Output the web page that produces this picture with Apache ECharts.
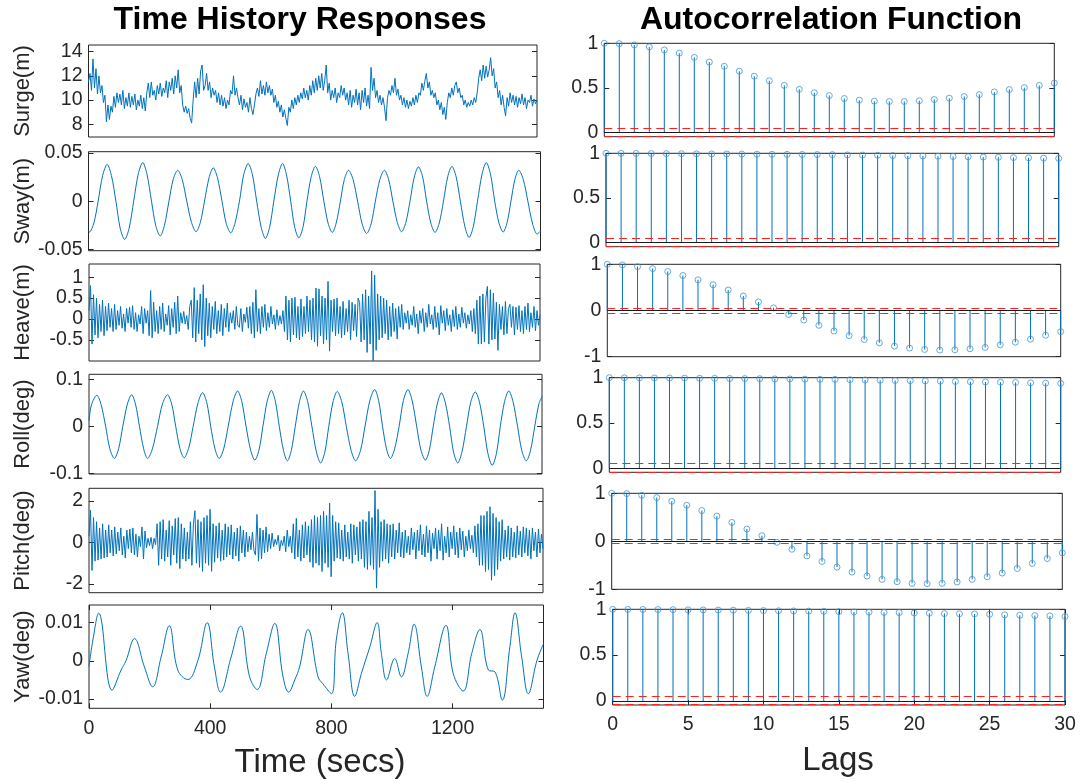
<!DOCTYPE html>
<html>
<head>
<meta charset="utf-8">
<script src="https://cdn.jsdelivr.net/npm/echarts@6/dist/echarts.min.js"></script>
<style>html,body{margin:0;padding:0;background:#fff}#c{width:1083px;height:784px}</style>
</head>
<body>
<div id="c"></div>
<script>
const FONT = '"Liberation Sans", Arial, Helvetica, sans-serif';

// ---------- DATA ----------
const timeStep = 5; // seconds between samples of the noisy records
const timeTicks = [0, 400, 800, 1200];
const lagTicks = [0, 5, 10, 15, 20, 25, 30];
const lags = [0,1,2,3,4,5,6,7,8,9,10,11,12,13,14,15,16,17,18,19,20,21,22,23,24,25,26,27,28,29,30];

const surgeTicks = [8, 10, 12, 14];
const swayTicks = [-0.05, 0, 0.05];
const heaveTicks = [-0.5, 0, 0.5, 1];
const rollTicks = [-0.1, 0, 0.1];
const pitchTicks = [-2, 0, 2];
const yawTicks = [-0.01, 0, 0.01];
const acfTicksPos = [0, 0.5, 1];
const acfTicksSym = [-1, 0, 1];

const surgeVals = [
 11.5,12.2,10.8,13.4,11.0,12.6,10.5,12.0,10.6,11.2,
 9.8,10.4,8.2,9.6,8.4,9.5,9.0,10.3,9.4,10.6,
 9.8,10.5,9.6,10.8,9.3,10.2,9.5,10.6,9.4,10.3,
 9.6,10.5,9.2,10.0,9.5,10.4,9.3,10.2,9.1,10.6,
 11.4,10.2,11.5,10.4,10.8,10.0,11.2,10.5,11.4,10.3,
 11.0,10.6,11.6,10.2,11.5,10.8,11.8,10.5,12.0,11.0,
 12.5,10.6,11.2,9.6,9.0,9.5,8.9,9.3,8.5,8.1,
 10.0,11.5,10.2,11.8,10.5,12.4,12.9,10.8,11.2,12.2,
 10.8,11.5,10.2,11.0,10.4,10.8,9.8,10.6,9.6,10.4,
 9.5,10.2,9.3,10.0,9.6,10.8,10.5,12.0,10.4,11.0,
 10.2,9.6,10.4,9.2,10.1,9.4,9.8,9.0,10.2,9.3,
 8.8,9.6,10.5,11.0,10.3,11.6,10.5,11.2,10.4,11.5,
 10.6,11.2,10.4,10.9,9.8,10.4,9.4,9.9,9.0,9.6,
 8.6,9.2,8.5,7.9,9.4,9.0,10.0,9.3,10.2,9.6,
 10.4,9.8,10.6,10.1,11.0,10.2,10.8,10.0,11.2,10.4,
 11.6,10.6,11.8,10.8,12.0,11.0,12.2,10.8,11.6,12.9,
 10.6,11.4,10.0,10.8,10.2,11.0,9.8,10.6,10.2,11.2,
 10.4,11.0,10.0,10.6,9.6,10.8,9.4,10.4,9.8,10.9,
 9.6,10.6,9.2,10.8,9.8,11.0,9.5,10.4,9.3,12.7,
 10.8,11.8,10.2,10.8,9.8,10.4,9.6,10.2,9.4,8.3,
 10.2,10.8,10.4,11.2,10.6,11.8,10.4,10.9,10.0,10.4,
 9.6,10.2,9.4,10.0,9.3,9.9,9.5,10.2,9.6,10.4,
 9.8,10.6,10.4,11.4,10.8,11.6,12.2,11.0,11.5,10.4,
 10.8,10.2,10.6,9.6,10.0,9.2,9.8,8.8,9.4,8.4,
 9.8,10.6,10.2,11.0,10.4,11.2,11.5,10.6,11.0,10.2,
 10.4,9.6,10.0,9.4,9.8,9.5,10.0,9.6,10.2,9.8,
 10.6,11.8,12.5,11.6,12.9,11.8,12.8,11.9,12.5,13.5,
 12.0,12.6,11.0,11.5,10.2,10.8,9.6,10.4,9.4,8.7,
 10.2,9.5,10.6,9.8,10.4,9.6,10.3,9.4,10.2,9.7,
 10.5,9.6,10.2,9.3,10.0,9.8,10.4,9.5,10.1,9.7,
 10.0
];

const heaveVals = [
 0.2,0.8,-0.6,0.58,-0.38,0.5,-0.45,0.35,-0.3,0.45,
 -0.4,0.3,-0.28,0.38,-0.2,0.25,-0.3,0.35,-0.25,0.2,
 -0.15,0.3,-0.22,0.12,-0.3,0.25,-0.1,0.28,-0.2,0.32,
 -0.25,0.15,-0.3,0.1,-0.12,0.3,-0.35,0.25,-0.1,0.2,
 -0.4,0.68,-0.45,0.4,-0.3,0.2,-0.35,0.3,-0.25,0.38,
 -0.3,0.12,-0.15,0.32,-0.38,0.25,-0.2,0.4,-0.35,0.55,
 -0.3,0.15,-0.1,0.18,-0.12,0.08,-0.25,0.3,0.45,-0.45,
 0.75,-0.55,0.45,-0.35,0.6,-0.5,0.82,-0.66,0.5,-0.4,
 0.38,-0.45,0.3,-0.25,0.42,-0.35,0.2,-0.3,0.35,-0.4,
 0.25,-0.2,0.38,-0.3,0.15,-0.1,0.2,-0.25,0.3,-0.15,
 -0.2,0.25,-0.3,0.12,-0.08,0.28,-0.22,0.3,-0.35,0.4,
 -0.45,0.7,-0.3,0.25,-0.35,0.3,-0.2,0.35,-0.28,0.15,
 -0.2,0.3,-0.12,0.1,-0.25,0.22,-0.15,0.08,-0.12,0.2,
 -0.3,0.55,-0.5,0.45,-0.55,0.5,-0.38,0.52,-0.45,0.3,
 -0.5,0.48,-0.42,0.3,-0.35,0.55,-0.3,0.45,-0.5,0.5,
 -0.55,0.74,-0.65,0.72,-0.4,0.55,-0.6,0.5,-0.5,0.9,
 -0.77,0.45,-0.3,0.48,-0.4,0.5,-0.35,0.3,-0.45,0.42,
 -0.38,0.25,-0.3,0.45,-0.5,0.4,-0.28,0.35,-0.42,0.5,
 0.4,-0.55,0.6,-0.5,0.7,-0.8,0.55,-0.6,1.15,-1.0,
 1.05,-0.75,0.6,-0.5,0.55,-0.45,0.5,-0.35,0.45,-0.5,
 0.3,-0.42,0.38,-0.3,0.25,-0.48,0.3,-0.2,0.35,-0.25,
 0.15,-0.1,0.2,-0.25,0.1,-0.15,0.3,-0.2,0.12,-0.35,
 0.2,-0.1,0.25,-0.3,0.15,-0.2,0.35,-0.12,0.1,-0.25,
 0.3,-0.2,0.15,-0.38,0.32,-0.1,0.2,-0.28,0.25,-0.15,
 0.1,-0.3,0.22,-0.18,0.3,-0.25,0.12,-0.2,0.28,-0.1,
 0.15,-0.22,0.1,-0.12,0.2,-0.3,0.25,-0.35,0.45,-0.6,
 0.55,-0.6,0.6,-0.55,0.5,0.78,-0.6,0.7,-0.5,0.62,
 -0.48,0.4,-0.75,0.35,-0.25,0.3,-0.38,0.42,-0.35,0.25,
 0.35,-0.2,0.3,-0.38,0.28,-0.25,0.32,-0.3,0.2,-0.35,
 0.3,-0.25,0.38,-0.3,0.15,-0.2,0.3,-0.28,0.2,-0.15,
 0.1
];

const pitchVals = [
 0.3,1.55,-1.35,1.2,-0.9,1.0,-0.85,0.7,-0.8,0.9,
 -0.75,0.6,-0.7,0.85,-0.5,0.6,-0.65,0.75,-0.55,0.5,
 -0.4,0.7,-0.6,0.3,-0.75,0.6,-0.3,0.65,-0.5,0.7,
 -0.6,0.4,-0.7,0.3,-0.2,0.75,-0.8,0.55,-0.25,0.2,
 -0.15,0.25,-0.3,0.2,-0.1,0.9,-1.1,1.0,-0.8,1.1,
 -0.9,0.6,-0.7,1.05,-1.1,0.8,-0.6,1.15,-1.0,1.2,
 -1.26,0.9,-0.8,0.7,-0.9,0.5,-0.8,1.0,-1.1,0.9,
 1.53,-1.0,1.1,-1.2,1.0,-1.39,1.2,-1.0,1.3,-1.1,
 1.6,-1.39,0.9,-0.95,0.8,-0.75,0.95,-0.9,0.6,-0.85,
 0.9,-0.7,0.75,-0.6,0.85,-0.8,0.5,-0.65,0.7,-0.9,
 0.8,-0.5,0.6,-0.7,0.5,-0.45,0.3,-0.35,0.5,-0.4,
 -0.6,1.35,-0.9,0.7,-0.8,0.6,-0.5,0.75,-0.45,0.4,
 -0.3,0.45,-0.2,0.15,-0.1,0.35,-0.4,0.1,-0.15,0.3,
 -0.45,0.6,-0.2,0.3,-0.5,0.9,-0.8,1.16,-0.7,0.6,
 -0.9,0.85,-0.75,1.0,-0.6,0.8,-0.95,1.1,-1.2,1.3,
 -1.0,1.2,-1.1,1.3,-1.4,1.5,-1.0,1.3,-1.2,1.9,
 -1.65,1.3,-0.9,1.0,-0.75,0.95,-0.8,0.6,-0.9,0.85,
 -0.7,0.5,-0.8,0.9,-1.0,0.85,-0.6,0.75,-0.9,1.0,
 -0.8,1.1,-1.2,1.0,-1.3,1.5,-1.1,1.2,-1.3,2.5,
 -2.2,1.6,-1.2,1.0,-0.9,1.1,-0.8,0.9,-1.0,0.85,
 -0.7,0.9,-0.8,0.6,-0.5,0.95,-0.7,0.5,-0.75,0.6,
 -0.5,0.3,-0.6,0.7,-0.35,0.5,-0.8,0.6,-0.4,0.85,
 -0.6,0.4,-0.7,0.8,-0.5,0.6,-0.9,0.45,-0.3,0.7,
 -0.8,0.6,-0.4,0.9,-0.85,0.3,-0.5,0.75,-0.7,0.5,
 -0.3,0.8,-0.6,0.5,-0.75,0.7,-0.35,0.55,-0.7,0.3,
 -0.4,0.6,-0.3,0.35,-0.5,0.8,-0.7,0.9,-1.1,1.3,
 -1.1,1.3,-1.4,1.5,-1.3,1.72,-1.82,1.4,-1.6,1.2,
 -1.3,1.0,-0.9,1.1,-0.8,0.6,-0.7,0.8,-0.85,0.7,
 -0.7,0.5,-0.75,0.8,-0.6,0.55,-0.7,0.75,-0.5,0.7,
 -0.65,0.6,-0.8,0.7,-0.4,0.5,-0.7,0.65,-0.5,0.4,
 -0.3
];

const swayT = [0,3,18,32,47,62,76,91,105,120,135,150,165,180,194,209,223,238,252,267,281,296,311,326,342,357,371,385,400,414,428,443,457,472,486,501,515,530,544,558,573,587,601,615,630,644,657,671,684,698,712,725,739,753,767,781,795,809,822,836,849,863,878,893,908,923,938,952,967,982,996,1010,1025,1039,1053,1067,1081,1095,1109,1122,1136,1150,1164,1178,1192,1206,1220,1234,1249,1263,1277,1291,1306,1320,1334,1348,1362,1376,1389,1402,1415,1428,1443,1458,1474,1489,1500];
const swayV = [-0.031,-0.032,-0.0224,0,0.0266,0.038,0.0266,0,-0.0278,-0.0397,-0.0278,0,0.028,0.040,0.028,0,-0.0252,-0.036,-0.0252,0,0.0224,0.032,0.0224,0,-0.0222,-0.0317,-0.0222,0,0.0242,0.0345,0.0242,0,-0.023,-0.0328,-0.023,0,0.0273,0.039,0.0273,0,-0.027,-0.0386,-0.027,0,0.0273,0.039,0.0273,0,-0.0266,-0.038,-0.0266,0,0.0252,0.036,0.0252,0,-0.0227,-0.0324,-0.0227,0,0.0224,0.032,0.0224,0,-0.0235,-0.0335,-0.0235,0,0.0224,0.032,0.0224,0,-0.0222,-0.0317,-0.0222,0,0.0249,0.0355,0.0249,0,-0.0227,-0.0324,-0.0227,0,0.0252,0.036,0.0252,0,-0.0263,-0.0376,-0.0263,0,0.028,0.040,0.028,0,-0.0224,-0.032,-0.0224,0,0.0224,0.032,0.0224,0,-0.0238,-0.034,-0.031];

const rollT = [0,8,26,40,55,69,84,98,112,127,141,154,167,181,194,210,227,243,260,274,287,301,315,330,345,361,376,390,403,417,431,446,461,477,492,506,520,535,549,563,576,590,604,617,630,644,657,670,683,697,710,724,738,753,767,781,794,808,822,837,852,868,883,899,914,930,946,959,972,985,998,1012,1027,1041,1056,1070,1085,1099,1114,1127,1140,1154,1167,1180,1194,1207,1221,1235,1250,1264,1279,1293,1307,1321,1335,1349,1362,1376,1390,1404,1419,1433,1448,1462,1476,1490,1500];
const rollV = [0.012,0.045,0.066,0.0462,0,-0.048,-0.0685,-0.048,0,0.0469,0.067,0.0469,0,-0.048,-0.0685,-0.048,0,0.0469,0.067,0.0469,0,-0.0469,-0.067,-0.0469,0,0.05,0.0714,0.05,0,-0.048,-0.0685,-0.048,0,0.0525,0.075,0.0525,0,-0.0504,-0.072,-0.0504,0,0.0532,0.076,0.0532,0,-0.0515,-0.0735,-0.0515,0,0.0525,0.075,0.0525,0,-0.0546,-0.078,-0.0546,0,0.0518,0.074,0.0518,0,-0.0515,-0.0735,-0.0515,0,0.0546,0.078,0.0546,0,-0.048,-0.0685,-0.048,0,0.0546,0.078,0.0546,0,-0.0504,-0.072,-0.0504,0,0.0497,0.071,0.0497,0,-0.0546,-0.078,-0.0546,0,0.0511,0.073,0.0511,0,-0.0581,-0.083,-0.0581,0,0.0525,0.075,0.0525,0,-0.0515,-0.0735,-0.0515,0,0.048,0.063];

const yawT = [0,14,32,76,106,122,150,183,210,238,265,293,326,359,390,414,434,469,500,530,555,585,613,640,659,679,695,723,756,772,800,816,836,855,877,899,927,951,965,982,1009,1031,1053,1073,1097,1116,1141,1178,1202,1235,1263,1290,1318,1340,1364,1389,1406,1428,1450,1478,1500];
const yawV = [-0.0015,0.006,0.0125,-0.0077,-0.0024,0,0.0058,-0.0016,-0.0068,0.001,0.0092,-0.0024,-0.0049,0,0.01,-0.0016,-0.0082,0.001,0.0091,-0.0042,-0.0075,0.0019,0.0098,-0.004,-0.0082,-0.005,-0.0016,0.0082,-0.0042,-0.006,-0.0086,0.0054,0.0126,0.0019,-0.0093,-0.0033,0.0037,0.01,0.0019,-0.005,0.0006,-0.0042,0.0019,0.0096,-0.0016,-0.0093,-0.0016,0.0093,-0.0033,-0.0079,0.0019,0.0082,-0.0024,-0.0029,-0.0103,0.0037,0.0126,0.001,-0.0086,0,0.0045];

const surgeAcf = [1.0,0.996,0.982,0.96,0.926,0.89,0.842,0.79,0.743,0.688,0.632,0.581,0.529,0.485,0.447,0.415,0.382,0.364,0.353,0.349,0.349,0.357,0.371,0.386,0.404,0.426,0.456,0.482,0.504,0.529,0.555];
const swayAcf = [1.0,0.999,0.998,0.997,0.996,0.995,0.994,0.993,0.992,0.991,0.99,0.989,0.988,0.987,0.986,0.985,0.982,0.98,0.978,0.975,0.973,0.97,0.967,0.964,0.961,0.958,0.955,0.952,0.949,0.946,0.943];
const heaveAcf = [1.0,0.986,0.95,0.907,0.843,0.757,0.664,0.557,0.443,0.314,0.186,0.057,-0.086,-0.207,-0.321,-0.443,-0.543,-0.629,-0.7,-0.771,-0.814,-0.843,-0.857,-0.85,-0.829,-0.8,-0.743,-0.686,-0.621,-0.536,-0.457];
const rollAcf = [1.0,0.999,0.998,0.997,0.996,0.995,0.994,0.993,0.991,0.99,0.989,0.987,0.986,0.984,0.982,0.981,0.978,0.975,0.972,0.969,0.967,0.964,0.962,0.958,0.955,0.953,0.95,0.947,0.943,0.94,0.937];
const pitchAcf = [1.0,0.993,0.959,0.91,0.834,0.752,0.641,0.524,0.393,0.255,0.117,-0.021,-0.166,-0.303,-0.421,-0.538,-0.641,-0.724,-0.793,-0.841,-0.876,-0.883,-0.876,-0.848,-0.793,-0.738,-0.662,-0.566,-0.462,-0.359,-0.241];
const yawAcf = [1.0,0.999,0.998,0.997,0.996,0.994,0.993,0.991,0.99,0.988,0.986,0.984,0.982,0.98,0.978,0.975,0.971,0.968,0.966,0.964,0.96,0.957,0.953,0.951,0.949,0.946,0.939,0.935,0.931,0.928,0.921];
const acfBound = 0.045;

// ---------- LAYOUT ----------
const uniformPoints = vals => vals.map((v, i) => [i * timeStep, v]);
const pairPoints = (ts, vs) => ts.map((t, i) => [t, vs[i]]);

const leftPanels = [
  {name: 'Surge(m)',   pts: uniformPoints(surgeVals), smooth: false, min: 6.95,   max: 14.55,  ticks: surgeTicks, box: [88.5, 45, 537, 137]},
  {name: 'Sway(m)',    pts: pairPoints(swayT, swayV), smooth: 0.3,   min: -0.0513, max: 0.0512, ticks: swayTicks,  box: [88.5, 151.7, 540.5, 250.7]},
  {name: 'Heave(m)',   pts: uniformPoints(heaveVals), smooth: false, min: -1.005, max: 1.316,  ticks: heaveTicks, box: [89, 264, 540, 361]},
  {name: 'Roll(deg)',  pts: pairPoints(rollT, rollV), smooth: 0.3,   min: -0.1015, max: 0.1104, ticks: rollTicks, box: [89, 374.3, 542, 474]},
  {name: 'Pitch(deg)', pts: uniformPoints(pitchVals), smooth: false, min: -2.42,  max: 2.61,   ticks: pitchTicks, box: [89, 488.3, 543, 592.7]},
  {name: 'Yaw(deg)',   pts: pairPoints(yawT, yawV),   smooth: 0.4,   min: -0.01243, max: 0.01463, ticks: yawTicks, box: [89, 605, 543.5, 708.3]}
];
const rightPanels = [
  {acf: surgeAcf, min: -acfBound, ticks: acfTicksPos, box: [604.3, 43.3, 1054.3, 136.7]},
  {acf: swayAcf,  min: -acfBound, ticks: acfTicksPos, box: [606, 153.3, 1058.7, 246.7]},
  {acf: heaveAcf, min: -1,        ticks: acfTicksSym, box: [607.3, 264.3, 1060.7, 356.7]},
  {acf: rollAcf,  min: -acfBound, ticks: acfTicksPos, box: [609.3, 377.7, 1060.7, 472.3]},
  {acf: pitchAcf, min: -1,        ticks: acfTicksSym, box: [611.7, 493.3, 1062.3, 589.3]},
  {acf: yawAcf,   min: -acfBound, ticks: acfTicksPos, box: [612.7, 609.3, 1065, 705]}
];

const TXT = '#262626';
const grid = [], xAxis = [], yAxis = [], series = [];
const lbl = v => String(v);

function addGrid(b) {
  grid.push({left: b[0], top: b[1], width: b[2] - b[0], height: b[3] - b[1], show: true,
    borderColor: TXT, borderWidth: 1, backgroundColor: 'rgba(0,0,0,0)'});
  return grid.length - 1;
}
function tickCfg(show, vals) {
  return {show: show, inside: true, length: 5, customValues: vals, lineStyle: {color: TXT, width: 1}};
}
function labelCfg(show, vals, margin) {
  return {show: show, customValues: vals, formatter: lbl, fontSize: 19.5, color: TXT, fontFamily: FONT, margin: margin};
}
const noLine = {show: false, onZero: false};

function addPanel(gi, xmin, xmax, xticks, showX, ymin, ymax, yticks, name) {
  const xi = xAxis.length;
  xAxis.push({gridIndex: gi, type: 'value', min: xmin, max: xmax, position: 'bottom',
    axisLine: noLine, splitLine: {show: false},
    axisTick: tickCfg(showX, xticks), axisLabel: labelCfg(showX, xticks, 10)});
  if (showX) {
    xAxis.push({gridIndex: gi, type: 'value', min: xmin, max: xmax, position: 'top',
      axisLine: noLine, splitLine: {show: false},
      axisTick: tickCfg(true, xticks), axisLabel: {show: false}});
  }
  const yi = yAxis.length;
  const ya = {gridIndex: gi, type: 'value', min: ymin, max: ymax, position: 'left',
    axisLine: noLine, splitLine: {show: false},
    axisTick: tickCfg(true, yticks), axisLabel: labelCfg(true, yticks, 6)};
  if (name) {
    ya.name = name; ya.nameLocation = 'middle'; ya.nameGap = 55;
    ya.nameTextStyle = {fontSize: 22, color: TXT, fontFamily: FONT};
  }
  yAxis.push(ya);
  yAxis.push({gridIndex: gi, type: 'value', min: ymin, max: ymax, position: 'right',
    axisLine: noLine, splitLine: {show: false},
    axisTick: tickCfg(true, yticks), axisLabel: {show: false}});
  return {xi, yi};
}

leftPanels.forEach((p, i) => {
  const gi = addGrid(p.box);
  const ax = addPanel(gi, 0, 1500, timeTicks, i === 5, p.min, p.max, p.ticks, p.name);
  series.push({type: 'line', xAxisIndex: ax.xi, yAxisIndex: ax.yi, data: p.pts,
    showSymbol: false, symbol: 'none', smooth: p.smooth, clip: true,
    lineStyle: {color: '#0072BD', width: 1}, animation: false, silent: true});
});

rightPanels.forEach((p, i) => {
  const gi = addGrid(p.box);
  const ax = addPanel(gi, 0, 30, lagTicks, i === 5, p.min, 1, p.ticks, null);
  const pts = lags.map((l, k) => [l, p.acf[k]]);
  series.push({type: 'bar', xAxisIndex: ax.xi, yAxisIndex: ax.yi, data: pts, barWidth: 1,
    itemStyle: {color: '#0072BD'}, animation: false, silent: true,
    markLine: {silent: true, symbol: 'none', animation: false, label: {show: false},
      data: [
        {yAxis: 0, lineStyle: {color: '#1a1a1a', type: 'solid', width: 1}},
        {yAxis: 0.05, lineStyle: {color: '#ff2020', type: [8, 5], width: 1}},
        {yAxis: p.min === -1 ? -0.05 : p.min, lineStyle: {color: '#ff2020', type: [8, 5], width: 1}}
      ]}});
  series.push({type: 'scatter', xAxisIndex: ax.xi, yAxisIndex: ax.yi, data: pts,
    symbol: 'circle', symbolSize: 6, clip: false, animation: false, silent: true,
    itemStyle: {color: 'rgba(255,255,255,0)', borderColor: '#3f97d8', borderWidth: 1}});
});

const graphic = [
  {type: 'text', x: 300, y: 20, style: {text: 'Time History Responses', font: 'bold 32px ' + FONT, fill: '#000', align: 'center', verticalAlign: 'middle'}},
  {type: 'text', x: 831, y: 20, style: {text: 'Autocorrelation Function', font: 'bold 32px ' + FONT, fill: '#000', align: 'center', verticalAlign: 'middle'}},
  {type: 'text', x: 320, y: 763, style: {text: 'Time (secs)', font: '33px ' + FONT, fill: TXT, align: 'center', verticalAlign: 'middle'}},
  {type: 'text', x: 838, y: 761, style: {text: 'Lags', font: '33px ' + FONT, fill: TXT, align: 'center', verticalAlign: 'middle'}}
];

const chart = echarts.init(document.getElementById('c'), null, {renderer: 'canvas'});
chart.setOption({backgroundColor: '#fff', animation: false, grid, xAxis, yAxis, series, graphic});
</script>
</body>
</html>
